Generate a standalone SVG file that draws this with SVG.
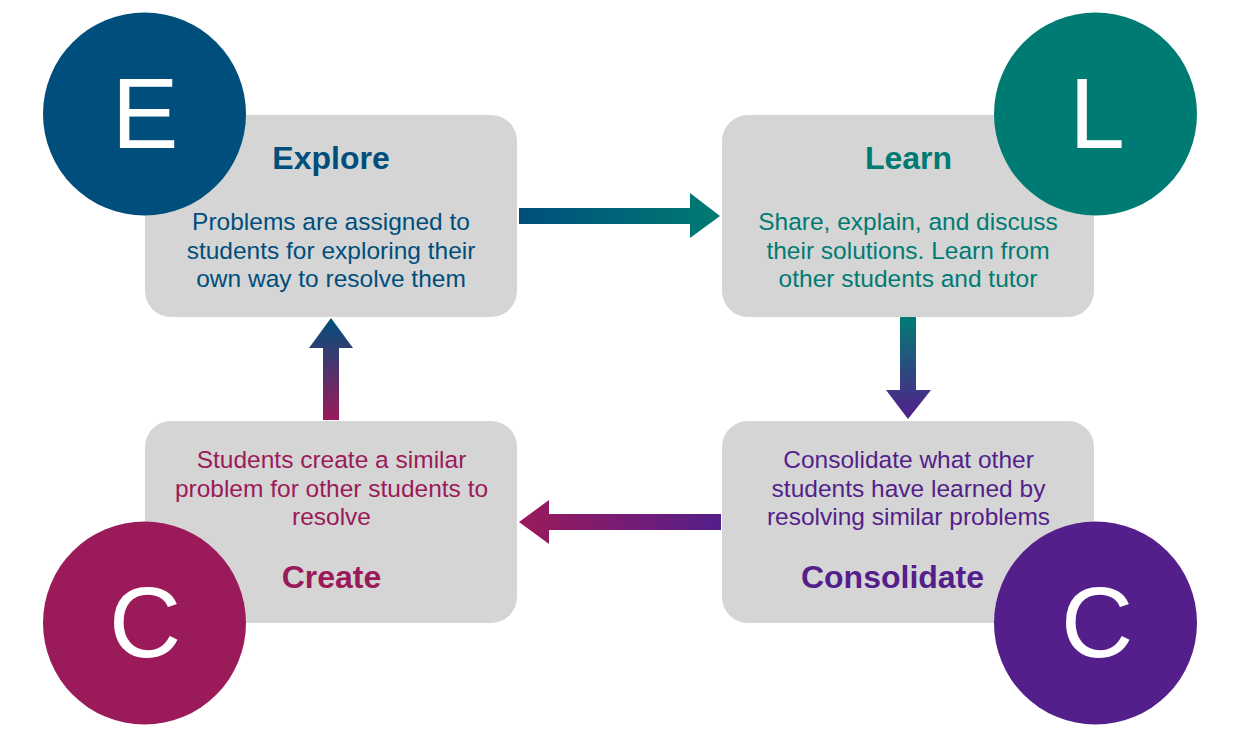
<svg xmlns="http://www.w3.org/2000/svg" width="1240" height="737" viewBox="0 0 1240 737">
<style>
.box{fill:#d5d5d5}
.t{font-family:"Liberation Sans",Arial,Helvetica,sans-serif;text-anchor:middle}
.title{font-size:32px;font-weight:bold}
.body{font-size:24.5px}
.letter{font-size:100px;fill:#ffffff}
.blue{fill:#004e7c}
.teal{fill:#007b73}
.mag{fill:#9b1a5a}
.pur{fill:#541e8b}
</style>
<defs>
<linearGradient id="gR" x1="0" y1="0" x2="1" y2="0"><stop offset="0" stop-color="#004e7c"/><stop offset="1" stop-color="#007b73"/></linearGradient>
<linearGradient id="gD" x1="0" y1="0" x2="0" y2="1"><stop offset="0" stop-color="#007b73"/><stop offset="1" stop-color="#541e8b"/></linearGradient>
<linearGradient id="gL" x1="1" y1="0" x2="0" y2="0"><stop offset="0" stop-color="#541e8b"/><stop offset="1" stop-color="#9b1a5a"/></linearGradient>
<linearGradient id="gU" x1="0" y1="1" x2="0" y2="0"><stop offset="0" stop-color="#9b1a5a"/><stop offset="1" stop-color="#004e7c"/></linearGradient>
</defs>
<g id="connectors">
<polygon fill="url(#gR)" points="519,208 690,208 690,193 720,216 690,238 690,224 519,224"/>
<polygon fill="url(#gD)" points="900,317 916,317 916,390 931,390 908,419 886,390 900,390"/>
<polygon fill="url(#gL)" points="721,514 721,530 549,530 549,544 519,522 549,500 549,514"/>
<polygon fill="url(#gU)" points="323,420 339,420 339,348 353,348 331,318 309,348 323,348"/>
</g>
<g id="explore">
<rect class="box" x="145" y="115" width="372" height="202" rx="26"/>
<text class="t title blue" x="331" y="169">Explore</text>
<text class="t body blue" x="331" y="230">Problems are assigned to</text>
<text class="t body blue" x="331" y="258.5">students for exploring their</text>
<text class="t body blue" x="331" y="287">own way to resolve them</text>
<circle class="blue" cx="144.5" cy="114" r="101.5"/>
<text class="t letter" x="145" y="148">E</text>
</g>
<g id="learn">
<rect class="box" x="722" y="115" width="372" height="202" rx="26"/>
<text class="t title teal" x="908.5" y="169">Learn</text>
<text class="t body teal" x="908" y="230">Share, explain, and discuss</text>
<text class="t body teal" x="908" y="258.5">their solutions. Learn from</text>
<text class="t body teal" x="908" y="287">other students and tutor</text>
<circle class="teal" cx="1095.5" cy="114" r="101.5"/>
<text class="t letter" x="1097" y="148">L</text>
</g>
<g id="create">
<rect class="box" x="145" y="421" width="372" height="202" rx="26"/>
<text class="t body mag" x="331.5" y="468">Students create a similar</text>
<text class="t body mag" x="331.5" y="496.5">problem for other students to</text>
<text class="t body mag" x="331.5" y="525">resolve</text>
<text class="t title mag" x="331.5" y="588">Create</text>
<circle class="mag" cx="144.5" cy="623" r="101.5"/>
<text class="t letter" x="145" y="657">C</text>
</g>
<g id="consolidate">
<rect class="box" x="722" y="421" width="372" height="202" rx="26"/>
<text class="t body pur" x="908.5" y="468">Consolidate what other</text>
<text class="t body pur" x="908.5" y="496.5">students have learned by</text>
<text class="t body pur" x="908.5" y="525">resolving similar problems</text>
<text class="t title pur" x="892.5" y="588">Consolidate</text>
<circle class="pur" cx="1095.5" cy="623" r="101.5"/>
<text class="t letter" x="1097" y="657">C</text>
</g>
</svg>
